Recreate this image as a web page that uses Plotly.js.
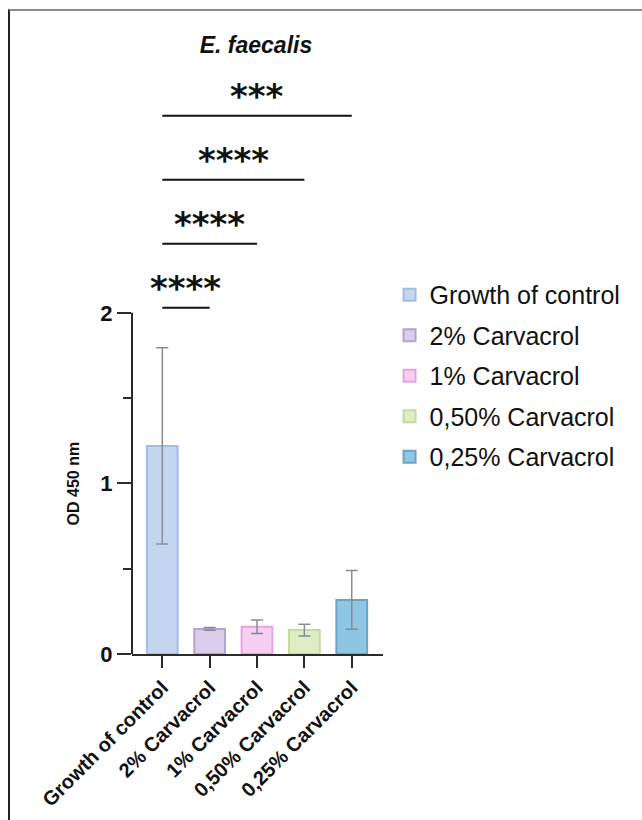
<!DOCTYPE html>
<html>
<head>
<meta charset="utf-8">
<script src="https://cdn.plot.ly/plotly-3.0.1.min.js"></script>
<style>
  html, body { margin: 0; padding: 0; background: #fff; overflow: hidden; }
  #wrap { position: relative; width: 642px; height: 820px; }
  #chart { position: absolute; left: 0; top: 0; width: 642px; height: 820px; }
  #frame { position: absolute; left: 8px; top: 9px; right: 0; bottom: 0;
           border-top: 2px solid #8a8a8a; border-left: 2px solid #222; pointer-events: none; }
</style>
</head>
<body>
<div id="wrap"><div id="chart"></div><div id="frame"></div></div>
<script>
// ---- data ----
const categories = ["Growth of control", "2% Carvacrol", "1% Carvacrol", "0,50% Carvacrol", "0,25% Carvacrol"];
const meanOD = [1.22, 0.147, 0.16, 0.14, 0.317];
const sdOD = [0.575, 0.008, 0.04, 0.034, 0.172];
const fillColors = ["#c4d6ef", "#dacdec", "#f6cef3", "#dfecc6", "#8fc6e3"];
const lineColors = ["#a3bde2", "#b3a2d4", "#e4a6e1", "#c4da9f", "#6ba4c8"];
// significance comparisons vs control: [target index, label]
const sigTargets = [1, 2, 3, 4];
const sigLabels = ["****", "****", "****", "***"];
const yTickVals = [0, 1, 2];
const yMinorVals = [0.5, 1.5];
const yTitle = "OD 450 nm";
const chartTitle = "E. faecalis";

const font = "'Liberation Sans', Arial, Helvetica, sans-serif";

const traces = categories.map((c, i) => ({
  type: "bar",
  name: c,
  legendgroup: "g" + i,
  x: [c],
  y: [meanOD[i]],
  width: 0.65,
  marker: { color: fillColors[i], line: { color: lineColors[i], width: 2 } },
  error_y: { type: "data", array: [sdOD[i]], visible: true, color: "#858c96", thickness: 1.5, width: 6 },
  hoverinfo: "x+y"
}));

const sigBase = 2.03, sigStep = 0.375;
const shapes = [
  // y axis line (0..2)
  { type: "line", xref: "paper", yref: "y", x0: 0, x1: 0, y0: 0, y1: 2,
    line: { color: "#2b2b2b", width: 2 } }
];
const annotations = [
  { xref: "paper", yref: "y", x: 0, y: 1, xshift: -59, text: "<b>" + yTitle + "</b>", textangle: -90,
    showarrow: false, xanchor: "center", yanchor: "middle",
    font: { family: font, size: 16, color: "#111" } }
];
sigTargets.forEach((t, k) => {
  const yv = sigBase + k * sigStep;
  shapes.push({ type: "line", xref: "x", yref: "y", x0: 0, x1: t, y0: yv, y1: yv,
                line: { color: "#111", width: 2 } });
  annotations.push({ xref: "x", yref: "y", x: t / 2, y: yv, text: sigLabels[k],
                     showarrow: false, yanchor: "bottom", yshift: -2,
                     font: { family: "'DejaVu Sans', sans-serif", size: 34, color: "#111", weight: "bold" } });
});

const layout = {
  width: 642, height: 820,
  margin: { l: 132, r: 259, t: 57, b: 166 },
  paper_bgcolor: "#fff", plot_bgcolor: "#fff",
  showlegend: true,
  barmode: "overlay",
  font: { family: font, color: "#111" },
  title: { text: "<b><i>" + chartTitle + "</i></b>", xref: "paper", x: 0.494, xanchor: "center",
           y: 0.945, yanchor: "middle", font: { family: font, size: 23, color: "#111" } },
  xaxis: {
    type: "category", range: [-0.64, 4.66], showline: true, linecolor: "#2b2b2b", linewidth: 2,
    ticks: "outside", ticklen: 12, tickwidth: 2, tickcolor: "#2b2b2b",
    tickangle: -45, tickfont: { family: font, size: 20, color: "#111", weight: "bold" },
    showgrid: false, zeroline: false, fixedrange: true
  },
  yaxis: {
    range: [0, 3.5], showline: false, showgrid: false, zeroline: false,
    tickvals: yTickVals, ticktext: yTickVals.map(String),
    ticks: "outside", ticklen: 14, tickwidth: 2, tickcolor: "#2b2b2b",
    minor: { tickvals: yMinorVals, ticks: "outside", ticklen: 8, tickwidth: 2, tickcolor: "#2b2b2b", showgrid: false },
    tickfont: { family: font, size: 22, color: "#111", weight: "bold" },
    fixedrange: true
  },
  legend: {
    x: 1.026, xanchor: "left", y: 0.64, yanchor: "top",
    font: { family: font, size: 25, color: "#111" },
    tracegroupgap: 5, bgcolor: "rgba(0,0,0,0)"
  },
  shapes: shapes,
  annotations: annotations
};

Plotly.newPlot("chart", traces, layout, { displayModeBar: false, staticPlot: true });
</script>
</body>
</html>
